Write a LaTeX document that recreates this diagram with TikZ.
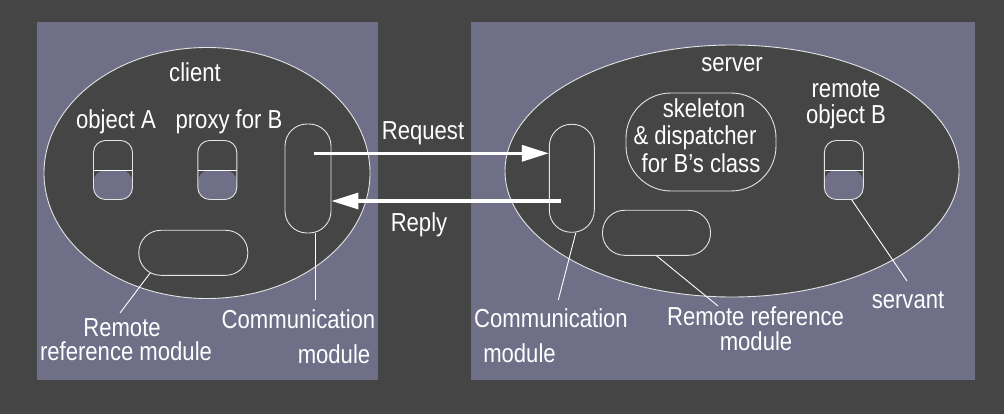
\documentclass[tikz,border=0pt]{standalone}
\usepackage{fontspec}
\setmainfont{Liberation Sans}[FakeStretch=0.85]
\usetikzlibrary{arrows.meta,shapes.geometric}
\definecolor{bgdark}{HTML}{454545}
\definecolor{panelc}{HTML}{6F6F88}
\definecolor{linec}{HTML}{E4E4E4}
\begin{document}
\begin{tikzpicture}[x=1pt,y=-1pt,
  lbl/.style={text=white,inner sep=0,anchor=base,font=\fontsize{26}{24}\selectfont},
  realm/.style={ellipse,draw=linec,line width=0.9pt,fill=bgdark,inner sep=0},
  capsule/.style={draw=linec,line width=0.9pt,rounded corners=12pt,minimum width=39pt,minimum height=59pt,inner sep=0,
    path picture={\fill[panelc] (path picture bounding box.west) rectangle (path picture bounding box.south east);
      \draw[white,line width=0.9pt] (path picture bounding box.west) -- (path picture bounding box.east);}},
  modbox/.style={draw=linec,line width=0.9pt,inner sep=0,rounded corners=22pt},
  msg/.style={white,line width=3.3pt,-{Triangle[length=27pt,width=16pt]}},
  leader/.style={draw=white,line width=0.9pt}
]
% background and panels
\fill[bgdark] (0,0) rectangle (1004,414);
\useasboundingbox (0,0) rectangle (1004,414);
\fill[panelc] (37,22) rectangle (378,380);
\fill[panelc] (471,22) rectangle (975,380);

% client side
\node[realm,minimum width=326pt,minimum height=251pt] (client) at (207,173) {};
\node[lbl] (clientlbl) at (195,82) {client};
\node[lbl] (objAlbl) at (116,129) {object A};
\node[lbl] (proxylbl) at (229,129) {proxy for B};
\node[capsule] (objA) at (113,170) {};
\node[capsule] (proxy) at (217.3,170) {};
\node[modbox,minimum width=46pt,minimum height=109pt] (ccomm) at (308,178.5) {};
\node[modbox,minimum width=109pt,minimum height=45pt] (crr) at (193.3,252.8) {};

\node[lbl] (crrlbl1) at (122,336) {Remote};
\node[lbl] (crrlbl2) at (126,360) {reference module};
\node[lbl] (ccommlbl1) at (298.5,328) {Communication};
\node[lbl] (ccommlbl2) at (334,363) {module};
\coordinate (crrtip) at (120,313);
\coordinate (ccommtip) at (315,300);
\draw[leader] ([shift={(-43,20)}]crr.center) -- (crrtip);
\draw[leader] ([xshift=7]ccomm.south) -- (ccommtip);

% server side
\node[realm,minimum width=454pt,minimum height=252pt] (server) at (732,171) {};
\node[lbl] (serverlbl) at (732,72) {server};
\node[draw=linec,line width=0.9pt,inner sep=0,rounded corners=45pt,minimum width=150pt,minimum height=98pt] (skel) at (701,142) {};
\node[lbl] (skel1) at (704,118) {skeleton};
\node[lbl] (skel2) at (695,145) {\& dispatcher};
\node[lbl] (skel3) at (701,173) {for B’s class};
\node[lbl] (remlbl1) at (846,98) {remote};
\node[lbl] (remlbl2) at (846,124) {object B};
\node[capsule] (objB) at (843.8,170) {};
\node[modbox,minimum width=45pt,minimum height=108pt] (scomm) at (571.8,178.3) {};
\node[modbox,minimum width=108pt,minimum height=45pt] (srr) at (656.5,232.8) {};

\node[lbl] (servantlbl) at (908,308) {servant};
\node[lbl] (srrlbl1) at (755.5,325) {Remote reference};
\node[lbl] (srrlbl2) at (756,350) {module};
\node[lbl] (scommlbl1) at (551,327) {Communication};
\node[lbl] (scommlbl2) at (519.5,362) {module};
\coordinate (servanttip) at (907,281);
\coordinate (srrtip) at (718,306);
\coordinate (scommtip) at (558.3,300);
\draw[leader] ([xshift=8]objB.south) -- (servanttip);
\draw[leader] (srr.south) -- (srrtip);
\draw[leader] ([xshift=4]scomm.south) -- (scommtip);

% messages
\coordinate (reqstart) at (314,153.3);
\coordinate (repstart) at (561,201);
\draw[msg] (reqstart) -- (reqstart -| scomm.west);
\draw[msg] (repstart) -- (repstart -| ccomm.east);
\node[lbl] (reqlbl) at (423,139.3) {Request};
\node[lbl] (replbl) at (419,231.7) {Reply};
\end{tikzpicture}
\end{document}
